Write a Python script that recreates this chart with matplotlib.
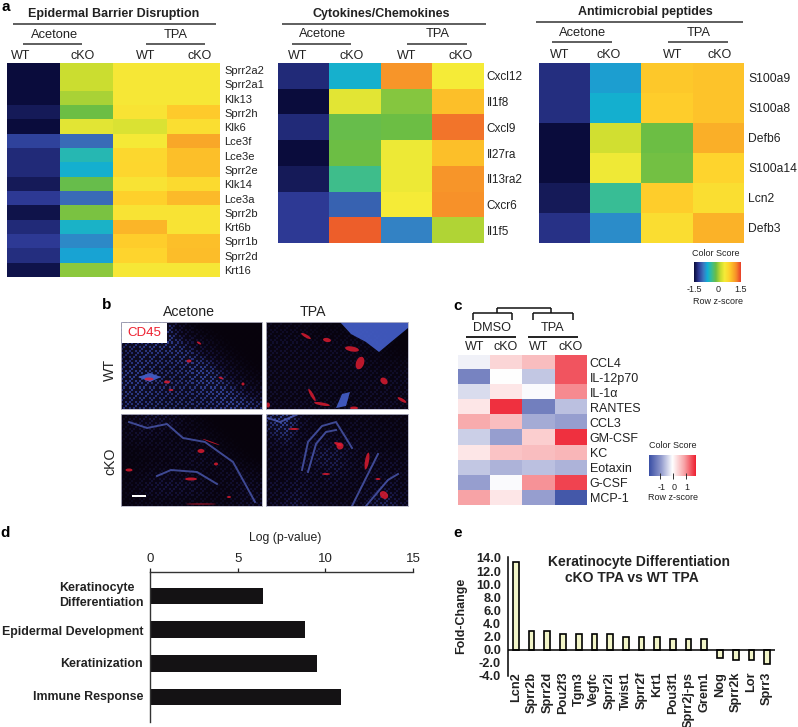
import numpy as np
import matplotlib
matplotlib.use('Agg')
import matplotlib.pyplot as plt
from matplotlib.colors import LinearSegmentedColormap, ListedColormap
from matplotlib.lines import Line2D
from matplotlib.patches import Ellipse, Polygon, Rectangle

plt.rcParams['font.family'] = ['Liberation Sans', 'DejaVu Sans']

# ---- data ----
groups = ['WT', 'cKO', 'WT', 'cKO']

barrier_genes = ['Sprr2a2', 'Sprr2a1', 'Klk13', 'Sprr2h', 'Klk6', 'Lce3f', 'Lce3e', 'Sprr2e',
                 'Klk14', 'Lce3a', 'Sprr2b', 'Krt6b', 'Sprr1b', 'Sprr2d', 'Krt16']
barrier_vals = [[-1.5, 0.22, 0.5, 0.5],
                [-1.5, 0.22, 0.5, 0.5],
                [-1.5, 0.1, 0.5, 0.5],
                [-1.4, -0.1, 0.55, 0.8],
                [-1.5, 0.35, 0.3, 0.6],
                [-1.15, -0.95, 0.48, 1.05],
                [-1.3, -0.5, 0.68, 0.88],
                [-1.3, -0.62, 0.7, 0.88],
                [-1.4, -0.12, 0.55, 0.65],
                [-1.2, -0.95, 0.75, 0.92],
                [-1.45, -0.05, 0.55, 0.55],
                [-1.3, -0.58, 0.95, 0.55],
                [-1.2, -0.82, 0.78, 0.88],
                [-1.27, -0.7, 0.72, 0.9],
                [-1.45, 0.0, 0.5, 0.5]]

cyto_genes = ['Cxcl12', 'Il1f8', 'Cxcl9', 'Il27ra', 'Il13ra2', 'Cxcr6', 'Il1f5']
cyto_vals = [[-1.3, -0.6, 1.15, 0.45],
             [-1.5, 0.35, -0.02, 0.88],
             [-1.3, -0.12, -0.1, 1.3],
             [-1.5, -0.1, 0.4, 0.88],
             [-1.4, -0.35, 0.4, 1.15],
             [-1.2, -1.0, 0.45, 1.18],
             [-1.2, 1.38, -0.85, 0.12]]

amp_genes = ['S100a9', 'S100a8', 'Defb6', 'S100a14', 'Lcn2', 'Defb3']
amp_vals = [[-1.27, -0.72, 0.82, 0.85],
            [-1.27, -0.62, 0.78, 0.85],
            [-1.5, 0.25, -0.1, 1.0],
            [-1.5, 0.42, -0.08, 0.72],
            [-1.4, -0.38, 0.78, 0.6],
            [-1.25, -0.8, 0.62, 0.98]]

cyt_names = ['CCL4', 'IL-12p70', 'IL-1\u03b1', 'RANTES', 'CCL3', 'GM-CSF', 'KC', 'Eotaxin', 'G-CSF', 'MCP-1']
cyt_vals = [[-0.1, 0.35, 0.55, 1.2],
            [-0.95, 0.0, -0.4, 1.2],
            [-0.25, 0.2, -0.03, 0.9],
            [0.2, 1.4, -1.0, -0.45],
            [0.7, 0.55, -0.6, -0.7],
            [-0.35, -0.7, 0.4, 1.4],
            [0.2, 0.5, 0.55, 0.6],
            [-0.4, -0.55, -0.45, -0.55],
            [-0.7, -0.03, 0.85, 1.3],
            [0.75, 0.2, -0.7, -1.4]]

path_names = ['Keratinocyte\nDifferentiation', 'Epidermal Development', 'Keratinization', 'Immune Response']
path_logp = [6.47, 8.82, 9.55, 10.88]

fc_genes = ['Lcn2', 'Sprr2b', 'Sprr2d', 'Pou2f3', 'Tgm3', 'Vegfc', 'Sprr2i', 'Twist1', 'Sprr2f',
            'Krt1', 'Pou3f1', 'Sprr2j-ps', 'Grem1', 'Nog', 'Sprr2k', 'Lor', 'Sprr3']
fc_vals = [13.4, 2.9, 2.9, 2.4, 2.4, 2.4, 2.4, 2.0, 2.0, 1.9, 1.7, 1.7, 1.7, -1.3, -1.5, -1.5, -2.2]

# micrographs of panel b: coarse blue (DAPI) density, digits 0-9
dapi_wt_ace = ['7776200000', '6777531000', '5666753100', '6766676310', '7666677531', '6766667753', '6666666776']
dapi_wt_tpa = ['2221111110', '3332223210', '3333332210', '3333333222', '3333333333', '3333323333', '3333333333']
dapi_ko_ace = ['2555210000', '3432221000', '1223322100', '1122343210', '1232221432', '2356552243', '1222222234']
dapi_ko_tpa = ['6842223222', '5733333332', '3535553322', '3436553343', '3353553343', '4454433453', '3553333564']
# red (CD45) patches: x, y, w, h, angle in pixels inside each panel
red_wt_ace = [(28, 57, 9, 3, 0), (68, 39, 5, 3, 0), (78, 21, 5, 2, 30), (100, 56, 5, 2, 20), (122, 62, 3, 3, 0),
              (46, 60, 6, 3, 0), (50, 68, 5, 2, 0)]
red_wt_tpa = [(40, 14, 11, 3, 30), (61, 18, 8, 4, 10), (86, 27, 14, 5, 10), (94, 41, 8, 13, 20), (118, 59, 8, 6, 40),
              (46, 73, 14, 3, 60), (56, 82, 16, 3, 10), (88, 86, 8, 3, 0), (136, 78, 10, 3, 30), (2, 83, 4, 5, 0)]
red_ko_ace = [(80, 37, 7, 4, 0), (8, 56, 7, 3, 0), (70, 65, 12, 3, 0), (95, 50, 4, 3, 0), (108, 83, 4, 2, 0),
              (80, 90, 30, 1, 0), (90, 28, 18, 1, 20)]
red_ko_tpa = [(72, 30, 8, 3, 20), (74, 32, 7, 7, 30), (101, 47, 4, 17, 10), (118, 81, 9, 7, 40), (60, 60, 8, 2, 0),
              (28, 15, 10, 2, 0), (112, 65, 5, 2, 0)]
# solid blue tissue shapes in the micrographs, corner lists in panel pixels
blue_wt_ace = [[(17, 55), (29, 51), (40, 55), (29, 60)]]
blue_wt_tpa = [[(74, 0), (142, 0), (142, 6), (125, 20), (113, 30), (100, 20), (85, 12)],
               [(70, 86), (76, 72), (84, 70), (80, 84)]]
# thin outlines: epidermis and follicle edges, traced in panel pixels
edge_wt_ace = []
edge_wt_tpa = []
edge_ko_ace = [[(8, 8), (26, 14), (46, 10), (62, 24), (84, 28), (112, 48), (122, 66), (134, 88)],
               [(36, 62), (50, 56), (76, 58), (96, 70)]]
edge_ko_tpa = [[(2, 4), (14, 8), (30, 1)],
               [(36, 56), (42, 28), (56, 12), (70, 8), (80, 24), (86, 34)],
               [(42, 58), (50, 30), (60, 18), (70, 16)],
               [(86, 92), (104, 56), (112, 40)],
               [(100, 92), (122, 66), (132, 60)]]

# ---- helpers ----
W, H = 798, 727
fig = plt.figure(figsize=(W / 100, H / 100), dpi=100, facecolor='white')
dark = '#222222'


def axpx(l, t, r, b):
    return fig.add_axes([l / W, 1 - b / H, (r - l) / W, (b - t) / H])


def txt(x, y, s, size=8, ha='center', va='center', color=dark, **kw):
    fig.text(x / W, 1 - y / H, s, fontsize=size, ha=ha, va=va, color=color, **kw)


def line(x0, x1, y0, y1=None, color='#333333', lw=1.0):
    if y1 is None:
        y1 = y0
    fig.add_artist(Line2D([x0 / W, x1 / W], [1 - y0 / H, 1 - y1 / H], color=color, lw=lw, solid_capstyle='butt'))


stops = [(-1.5, '#0a0c3c'), (-1.2, '#2e3a96'), (-0.9, '#3c78c0'), (-0.65, '#10aed8'), (-0.4, '#35bd9a'),
         (-0.1, '#6cbe45'), (0.2, '#c8dc30'), (0.45, '#f5ec38'), (0.75, '#ffd22c'), (1.0, '#fbb028'),
         (1.2, '#f78f2a'), (1.5, '#e8402a')]
jet = LinearSegmentedColormap.from_list('score', [((v + 1.5) / 3, c) for v, c in stops])
bwr = LinearSegmentedColormap.from_list('score2', ['#3a4fa5', '#8f98cc', '#ffffff', '#f8a5a8', '#ee2030'])


def heat(box, vals, genes, cmap, size=8, pad=4):
    ax = axpx(*box)
    ax.imshow(np.array(vals), cmap=cmap, vmin=-1.5, vmax=1.5, aspect='auto', interpolation='nearest')
    ax.set_xticks([])
    ax.yaxis.tick_right()
    ax.set_yticks(range(len(genes)))
    ax.set_yticklabels(genes, fontsize=size, color=dark)
    ax.tick_params(axis='y', length=0, pad=pad)
    for s in ax.spines.values():
        s.set_visible(False)
    return ax


def header(title, tx, ty, ly, lx, ace, ace_line, tpa, tpa_line, ay, aly, cols, gy):
    txt(tx, ty, title, size=9, fontweight='bold')
    line(lx[0], lx[1], ly, lw=1.1)
    txt(ace, ay, 'Acetone', size=9.3)
    txt(tpa, ay, 'TPA', size=9.3)
    line(ace_line[0], ace_line[1], aly, lw=1.1)
    line(tpa_line[0], tpa_line[1], aly, lw=1.1)
    for x, g in zip(cols, groups):
        txt(x, gy, g, size=9)


# ---- panel a ----
txt(6, 7, 'a', size=11, fontweight='bold', color='black')
header('Epidermal Barrier Disruption', 114, 14, 24, (13, 216), 54.5, (23, 82), 176, (146, 205), 35, 44,
       (21, 83, 146, 200), 56)
heat((7, 63, 220, 277), barrier_vals, barrier_genes, jet, size=8, pad=3)

header('Cytokines/Chemokines', 381, 14, 24, (282, 486), 323, (292, 351), 438, (407, 467), 34, 44,
       (298, 352, 407, 461), 56)
heat((278, 63, 484, 243), cyto_vals, cyto_genes, jet, size=8.5, pad=2)

header('Antimicrobial peptides', 645, 12, 22, (536, 743), 583, (552, 612), 699, (668, 728), 33, 42,
       (560, 609, 673, 720), 55)
heat((539, 63, 744, 243), amp_vals, amp_genes, jet, size=8.7, pad=3)

cb = axpx(694, 262, 741, 282)
cb.imshow(np.linspace(-1.5, 1.5, 200)[None, :], cmap=jet, vmin=-1.5, vmax=1.5, aspect='auto', extent=(-1.5, 1.5, 0, 1))
cb.set_yticks([])
cb.set_xticks([])
for s in cb.spines.values():
    s.set_visible(False)
txt(716, 254, 'Color Score', size=6.5)
for x, s in zip((694, 718, 741), ('-1.5', '0', '1.5')):
    txt(x, 289, s, size=6.5)
txt(718, 302, 'Row z-score', size=6.5)

# ---- panel b ----
txt(107, 305, 'b', size=11, fontweight='bold', color='black')
txt(189, 312, 'Acetone', size=10.2)
txt(313, 312, 'TPA', size=10.2)
txt(110, 370, 'WT', size=10.2, rotation=90)
txt(110, 461, 'cKO', size=10.2, rotation=90)

dapi_cmap = LinearSegmentedColormap.from_list('dapi', ['#07030c', '#16143e', '#4a6ae0'])
stipple_cmap = ListedColormap([(0.03, 0.01, 0.05, 0.0), (0.03, 0.01, 0.05, 0.8)])
stipple_tile = np.array([[0, 1, 1, 0, 1], [1, 1, 0, 1, 1], [1, 0, 1, 1, 0], [0, 1, 1, 1, 1], [1, 1, 0, 1, 0]])
panels = [((121, 322, 262, 409), dapi_wt_ace, red_wt_ace, blue_wt_ace, edge_wt_ace),
          ((266, 322, 408, 409), dapi_wt_tpa, red_wt_tpa, blue_wt_tpa, edge_wt_tpa),
          ((121, 414, 262, 506), dapi_ko_ace, red_ko_ace, [], edge_ko_ace),
          ((266, 414, 408, 506), dapi_ko_tpa, red_ko_tpa, [], edge_ko_tpa)]
for box, dapi, reds, blues, edges in panels:
    ax = axpx(*box)
    w, h = box[2] - box[0], box[3] - box[1]
    grid = np.array([[int(c) for c in row] for row in dapi])
    ax.imshow(grid, cmap=dapi_cmap, vmin=0, vmax=9, aspect='auto', interpolation='bicubic', extent=(0, w, h, 0))
    tile = np.tile(stipple_tile, (h // 10 + 1, w // 10 + 1))[:h // 2, :w // 2]
    ax.imshow(tile, cmap=stipple_cmap, vmin=0, vmax=1, aspect='auto', interpolation='nearest', extent=(0, w, h, 0))
    for corners in blues:
        ax.add_patch(Polygon(corners, closed=True, color='#4560cc', lw=0, alpha=0.9))
    for trace in edges:
        ex, ey = zip(*trace)
        ax.plot(ex, ey, color='#5566c8', lw=1.4, alpha=0.7)
    for x, y, ew, eh, ang in reds:
        ax.add_patch(Ellipse((x, y), ew, eh, angle=ang, color='#e81c30', alpha=0.8, lw=0))
    ax.set_xlim(0, w)
    ax.set_ylim(h, 0)
    ax.set_xticks([])
    ax.set_yticks([])
    for s in ax.spines.values():
        s.set_color('#b8b8c8')
        s.set_linewidth(0.6)
    if box[0] == 121 and box[1] == 322:
        ax.add_patch(Rectangle((1, 1), 45, 20, color='white', lw=0))
        ax.text(23.5, 11.5, 'CD45', color='#ee2030', fontsize=9.5, ha='center', va='center')
    if box[0] == 121 and box[1] == 414:
        ax.add_patch(Rectangle((11, 81), 14, 2, color='white', lw=0))

# ---- panel c ----
txt(458, 306, 'c', size=11, fontweight='bold', color='black')
line(473, 512, 313, lw=1.1, color='#111111')
line(473, 473, 313, 320, lw=1.1, color='#111111')
line(512, 512, 313, 320, lw=1.1, color='#111111')
line(533, 573, 313, lw=1.1, color='#111111')
line(533, 533, 313, 320, lw=1.1, color='#111111')
line(573, 573, 313, 320, lw=1.1, color='#111111')
line(497, 551, 308, lw=1.1, color='#111111')
line(497, 497, 308, 313, lw=1.1, color='#111111')
line(551, 551, 308, 313, lw=1.1, color='#111111')
line(466, 516, 337, lw=1.3, color='#111111')
line(528, 578, 337, lw=1.3, color='#111111')
txt(492, 328, 'DMSO', size=9.2)
txt(553, 328, 'TPA', size=9.2)
for x, g in zip((475, 506, 539, 571), groups):
    txt(x, 347, g, size=9)
heat((458, 355, 587, 505), cyt_vals, cyt_names, bwr, size=9, pad=2)

cb2 = axpx(649, 455, 696, 476)
cb2.imshow(np.linspace(-1.5, 1.5, 200)[None, :], cmap=bwr, vmin=-1.5, vmax=1.5, aspect='auto', extent=(-1.88, 1.76, 0, 1))
cb2.set_yticks([])
cb2.set_xticks([-1, 0, 1])
cb2.set_xticklabels([])
cb2.tick_params(axis='x', direction='inout', length=4, width=0.7, color='#333333')
for s in cb2.spines.values():
    s.set_visible(False)
txt(673, 446, 'Color Score', size=6.5)
for x, s in zip((662, 674, 687), ('-1', '0', '1')):
    txt(x, 487, s, size=6.5)
txt(673, 498, 'Row z-score', size=6.5)

# ---- panel d ----
txt(5, 533, 'd', size=11, fontweight='bold', color='black')
ax = axpx(150, 572, 413, 722)
ax.barh(range(len(path_logp)), path_logp, height=0.5, color='#141214')
ax.set_xlim(0, 15)
ax.set_ylim(3.74, -0.71)
ax.xaxis.tick_top()
ax.set_xticks([0, 5, 10, 15])
ax.tick_params(axis='x', labelsize=9.5, length=3, width=0.9, pad=2, colors=dark)
ax.set_yticks([])
ax.spines['right'].set_visible(False)
ax.spines['bottom'].set_visible(False)
for s in ('top', 'left'):
    ax.spines[s].set_linewidth(1.0)
    ax.spines[s].set_color('#333333')
txt(285, 538, 'Log (p-value)', size=8.8)
txt(59, 595.5, path_names[0], size=8.9, ha='left', fontweight='bold', linespacing=1.25)
for yy, name in zip((632, 664, 697), path_names[1:]):
    txt(143, yy, name, size=8.9, ha='right', fontweight='bold')

# ---- panel e ----
txt(458, 533, 'e', size=11, fontweight='bold', color='black')
ax = axpx(508, 557, 775, 676)
xs = np.arange(len(fc_vals))
ax.bar(xs, fc_vals, width=0.36, color='#f2f5c8', edgecolor='black', linewidth=1.2)
ax.set_xlim(-0.5, 16.5)
ax.set_ylim(-4, 14.15)
ax.set_yticks(np.arange(-4, 15, 2))
ax.set_yticklabels(['%.1f' % v for v in np.arange(-4, 15, 2)], fontsize=9.2, fontweight='bold', color=dark)
ax.tick_params(axis='y', length=0, pad=5)
ax.set_xticks(xs)
ax.set_xticklabels(fc_genes, rotation=90, fontsize=9.2, fontweight='bold', color=dark)
ax.tick_params(axis='x', length=0, pad=-3, bottom=True)
for s in ('top', 'right', 'bottom'):
    ax.spines[s].set_visible(False)
ax.spines['left'].set_linewidth(1.1)
ax.axhline(0, color='black', lw=1.1)
ax.patch.set_alpha(0)
txt(639, 562, 'Keratinocyte Differentiation', size=10, fontweight='bold')
txt(632, 578, 'cKO TPA vs WT TPA', size=10, fontweight='bold')
txt(461, 616, 'Fold-Change', size=9, rotation=90, fontweight='bold')

fig.savefig('out.png', dpi=100)
